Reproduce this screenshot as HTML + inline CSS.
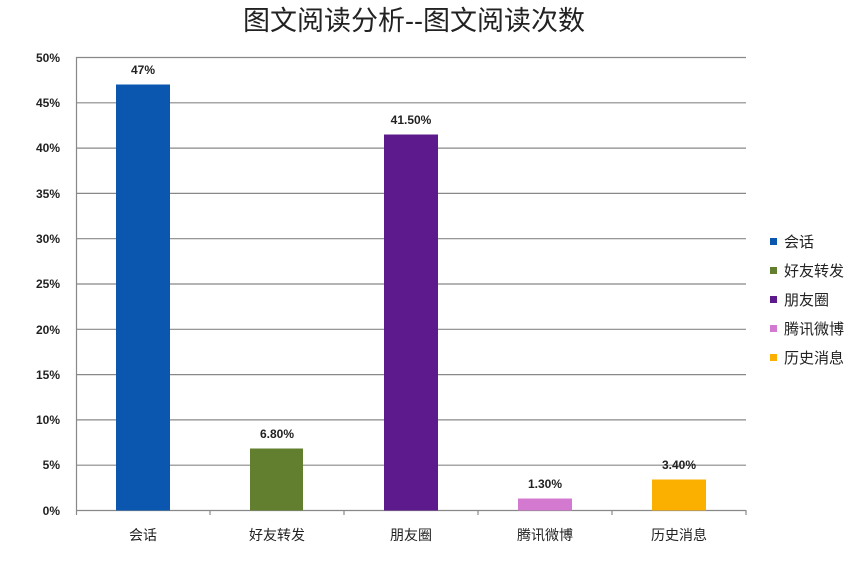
<!DOCTYPE html><html><head><meta charset="utf-8"><style>body{margin:0;background:#fff}</style></head><body>
<svg width="866" height="563" xmlns="http://www.w3.org/2000/svg" font-family="Liberation Sans, Noto Sans CJK SC, sans-serif">
<text x="414" y="30" font-size="27" text-anchor="middle" fill="#222">图文阅读分析--图文阅读次数</text>
<g stroke="#888" stroke-width="1.2">
<line x1="76" y1="57.5" x2="746" y2="57.5"/><line x1="76" y1="102.8" x2="746" y2="102.8"/><line x1="76" y1="148.1" x2="746" y2="148.1"/><line x1="76" y1="193.4" x2="746" y2="193.4"/><line x1="76" y1="238.7" x2="746" y2="238.7"/><line x1="76" y1="284" x2="746" y2="284"/><line x1="76" y1="329.3" x2="746" y2="329.3"/><line x1="76" y1="374.6" x2="746" y2="374.6"/><line x1="76" y1="419.9" x2="746" y2="419.9"/><line x1="76" y1="465.2" x2="746" y2="465.2"/><line x1="76" y1="510.5" x2="746" y2="510.5"/>
<line x1="76.5" y1="57" x2="76.5" y2="515"/>
<line x1="210" y1="510" x2="210" y2="515"/><line x1="344" y1="510" x2="344" y2="515"/><line x1="478" y1="510" x2="478" y2="515"/><line x1="612" y1="510" x2="612" y2="515"/><line x1="746" y1="510" x2="746" y2="515"/>
</g>
<g font-size="12" fill="#222" text-anchor="end" font-weight="bold">
<text x="60" y="62">50%</text><text x="60" y="107">45%</text><text x="60" y="152">40%</text><text x="60" y="198">35%</text><text x="60" y="243">30%</text><text x="60" y="288">25%</text><text x="60" y="334">20%</text><text x="60" y="379">15%</text><text x="60" y="424">10%</text><text x="60" y="469">5%</text><text x="60" y="515">0%</text>
</g>
<rect x="116" y="84.5" width="54" height="426" fill="#0b57b0"/>
<rect x="250" y="448.5" width="53" height="62" fill="#627f2f"/>
<rect x="384" y="134.5" width="54" height="376" fill="#5c1a8c"/>
<rect x="518" y="498.5" width="54" height="12" fill="#d479d0"/>
<rect x="652" y="479.5" width="54" height="31" fill="#fbb000"/>
<g font-size="12" fill="#222" text-anchor="middle" font-weight="bold">
<text x="143" y="74">47%</text><text x="277" y="438">6.80%</text><text x="411" y="124">41.50%</text><text x="545" y="488">1.30%</text><text x="679" y="469">3.40%</text>
</g>
<g font-size="14" fill="#222" text-anchor="middle">
<text x="143" y="540">会话</text><text x="277" y="540">好友转发</text><text x="411" y="540">朋友圈</text><text x="545" y="540">腾讯微博</text><text x="679" y="540">历史消息</text>
</g>
<rect x="770" y="238" width="7" height="7" fill="#0b57b0"/>
<rect x="770" y="267" width="7" height="7" fill="#627f2f"/>
<rect x="770" y="296" width="7" height="7" fill="#5c1a8c"/>
<rect x="770" y="325" width="7" height="7" fill="#d479d0"/>
<rect x="770" y="354" width="7" height="7" fill="#fbb000"/>
<g font-size="15" fill="#222">
<text x="784" y="247">会话</text><text x="784" y="276">好友转发</text><text x="784" y="305">朋友圈</text><text x="784" y="334">腾讯微博</text><text x="784" y="363">历史消息</text>
</g>
</svg></body></html>
